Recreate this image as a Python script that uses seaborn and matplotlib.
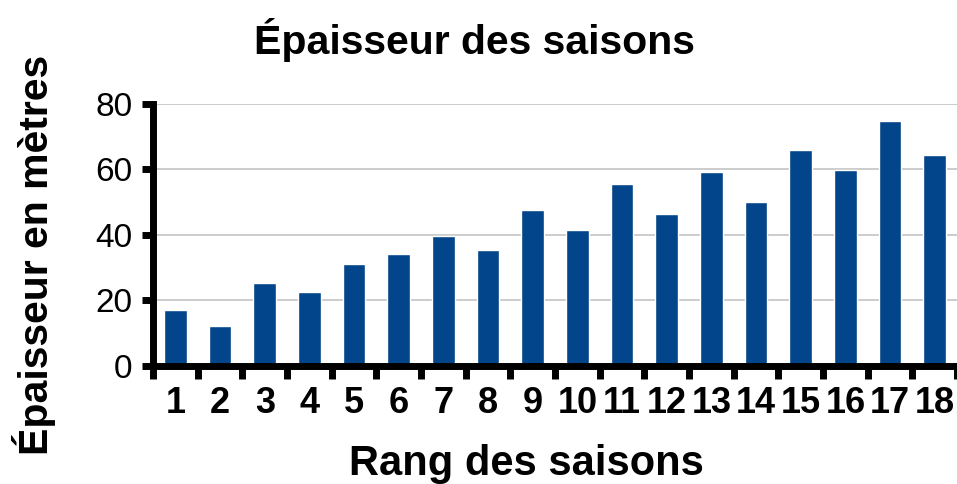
import seaborn as sns
import matplotlib as mpl
import matplotlib.pyplot as plt
import numpy as np

mpl.use('Agg')

# rang des saisons et epaisseur (m)
rangs = [str(i) for i in range(1, 19)]
epaisseurs = [17, 12, 25.2, 22.4, 31, 34.1, 39.6, 35.3, 47.6,
              41.4, 55.5, 46.3, 59.2, 50, 65.9, 59.8, 74.8, 64.4]
yticks = [0, 20, 40, 60, 80]

sns.set_style("white")
plt.rcParams['font.family'] = ['Liberation Sans', 'DejaVu Sans']
plt.rcParams['text.color'] = 'black'
plt.rcParams['xtick.color'] = 'black'
plt.rcParams['ytick.color'] = 'black'

fig = plt.figure(figsize=(9.57, 4.84), dpi=100)
ax = fig.add_axes([0.160, 0.2448, 0.840, 0.5405])

sns.barplot(x=rangs, y=epaisseurs, color='#02458A', saturation=1,
            width=0.51, ax=ax)

ax.set_ylim(0, 80)
ax.set_xlim(-0.5, 17.5)
ax.set_yticks(yticks)
ax.yaxis.grid(True, color='#c8c8c8', lw=1.3)
ax.set_axisbelow(True)

for s in ['top', 'right']:
    ax.spines[s].set_visible(False)
for s in ['left', 'bottom']:
    ax.spines[s].set_linewidth(5)
    ax.spines[s].set_color('black')

# ticks x entre les barres
ax.set_xticks(np.arange(-0.5, 18, 1), minor=True)
ax.tick_params(axis='x', which='minor', direction='out', length=9, width=5,
               color='black', bottom=True)
ax.tick_params(axis='x', which='major', length=0, pad=15)
ax.tick_params(axis='y', direction='out', length=8, width=5, color='black',
               left=True, pad=7, labelsize=24)
for lab in ax.get_xticklabels():
    lab.set_fontsize(26)
    lab.set_fontweight('bold')

ax.set_xlabel("")
ax.set_ylabel("")
fig.text(0.496, 0.889, "Épaisseur des saisons", ha='center', va='baseline',
         fontsize=29.5, fontweight='bold')
fig.text(0.5496, 0.0186, "Rang des saisons", ha='center', va='baseline',
         fontsize=30, fontweight='bold')
fig.text(0.0355, 0.473, "Épaisseur en mètres", ha='center', va='center',
         rotation=90, fontsize=29.5, fontweight='bold')

plt.savefig("out.png", dpi=100)
